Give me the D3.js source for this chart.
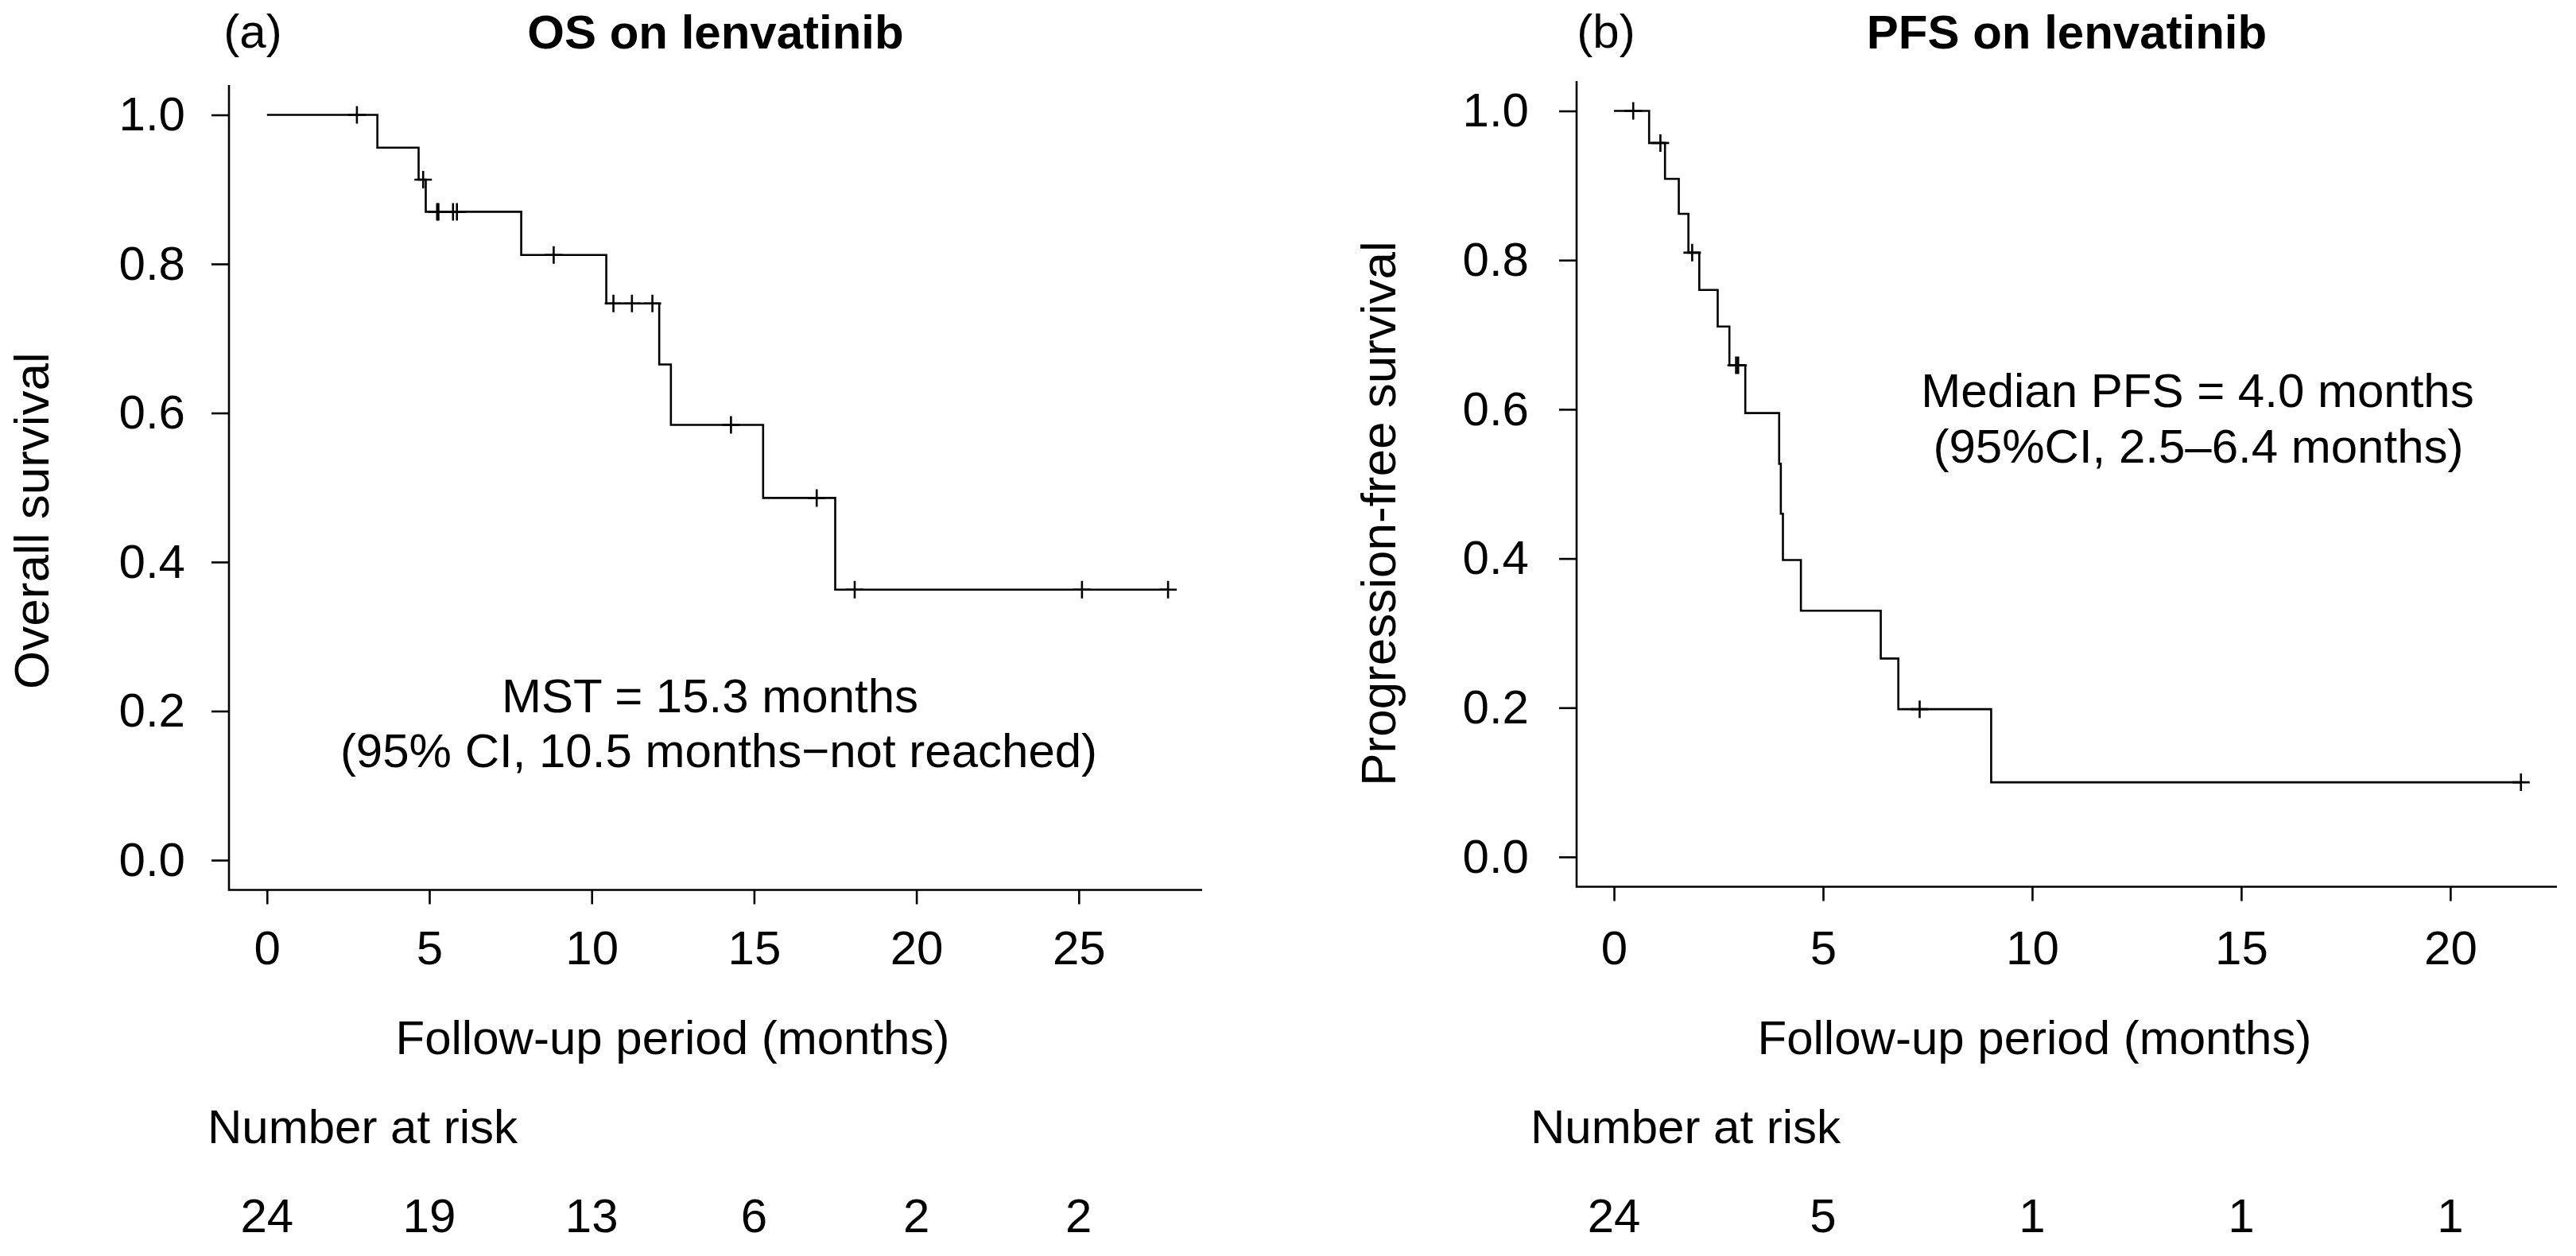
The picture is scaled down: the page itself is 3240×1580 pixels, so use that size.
<!DOCTYPE html>
<html><head><meta charset="utf-8">
<script src="https://cdn.jsdelivr.net/npm/d3@7"></script>
<style>
body{margin:0;background:#fff}
svg{display:block;background:#fff}
text{font-family:"Liberation Sans",Arial,Helvetica,sans-serif;fill:#000}
</style>
</head><body>
<svg id="c" width="3240" height="1580"></svg>
<script>
// ---------- data ----------
const yTicks = [0, 0.2, 0.4, 0.6, 0.8, 1.0];

// (a) Overall survival
const osTicks = [0, 5, 10, 15, 20, 25];
const osRisk = [24, 19, 13, 6, 2, 2];
const osTime = [0, 3.40, 4.67, 4.89, 7.83, 10.45, 12.08, 12.44, 15.28, 17.50];
const osSurv = [1.000, 0.956, 0.913, 0.870, 0.812, 0.747, 0.665, 0.584, 0.486, 0.363];
const osEnd = 27.75;
const osCensorTime = [2.77, 4.81, 5.24, 5.28, 5.73, 5.85, 8.83, 10.67, 11.24, 11.87, 14.29, 16.93, 18.10, 25.10, 27.75];
const osCensorSurv = [1.000, 0.913, 0.870, 0.870, 0.870, 0.870, 0.812, 0.747, 0.747, 0.747, 0.584, 0.486, 0.363, 0.363, 0.363];

// (b) Progression-free survival
const pfsTicks = [0, 5, 10, 15, 20];
const pfsRisk = [24, 5, 1, 1, 1];
const pfsTime = [0, 0.84, 1.22, 1.55, 1.78, 2.04, 2.48, 2.76, 3.14, 3.95, 3.99, 4.04, 4.47, 6.38, 6.80, 9.02];
const pfsSurv = [1.000, 0.957, 0.909, 0.862, 0.810, 0.760, 0.711, 0.659, 0.595, 0.527, 0.460, 0.398, 0.330, 0.266, 0.198, 0.100];
const pfsEnd = 21.69;
const pfsCensorTime = [0.46, 1.11, 1.87, 2.92, 2.97, 7.31, 21.69];
const pfsCensorSurv = [1.000, 0.957, 0.810, 0.659, 0.659, 0.198, 0.100];

// ---------- drawing ----------
const svg = d3.select('#c');
const FS = 60, SW = 2.6;

function panel(p) {
  const g = svg.append('g');
  const x = d3.scaleLinear().domain(p.xDom).range([p.left, p.right]);
  const y = d3.scaleLinear().domain([-0.04, 1.04]).range([p.bottom, p.top]);

  // L-shaped frame
  g.append('path')
    .attr('d', `M${p.left},${p.top}V${p.bottom}H${p.right}`)
    .attr('fill', 'none').attr('stroke', '#000').attr('stroke-width', SW);

  // y axis
  const ya = g.append('g').attr('transform', `translate(${p.left},0)`)
    .call(d3.axisLeft(y).tickValues(yTicks).tickFormat(d3.format('.1f'))
      .tickSize(22).tickPadding(p.yPad));
  ya.attr('font-size', FS);
  ya.select('.domain').remove();
  ya.selectAll('.tick line').attr('stroke-width', SW);

  // x axis
  const xa = g.append('g').attr('transform', `translate(0,${p.bottom})`)
    .call(d3.axisBottom(x).tickValues(p.ticks).tickFormat(d3.format('d'))
      .tickSize(18).tickPadding(1213 - p.bottom - 18 - 0.71 * FS));
  xa.attr('font-size', FS);
  xa.select('.domain').remove();
  xa.selectAll('.tick line').attr('stroke-width', SW);

  // KM step curve
  const pts = p.time.map((t, i) => [t, p.surv[i]]);
  pts.push([p.end, p.surv[p.surv.length - 1]]);
  g.append('path').datum(pts)
    .attr('d', d3.line().x(d => x(d[0])).y(d => y(d[1])).curve(d3.curveStepAfter))
    .attr('fill', 'none').attr('stroke', '#000').attr('stroke-width', SW);

  // censor marks
  const cs = p.cTime.map((t, i) => [t, p.cSurv[i]]);
  const h = 11;
  g.selectAll('path.cens').data(cs).join('path').attr('class', 'cens')
    .attr('d', d => { const cx = x(d[0]), cy = y(d[1]);
      return `M${cx - h},${cy}H${cx + h}M${cx},${cy - h}V${cy + h}`; })
    .attr('fill', 'none').attr('stroke', '#000').attr('stroke-width', SW);

  // titles
  g.append('text').attr('x', p.tagX).attr('y', 60).attr('text-anchor', 'middle')
    .attr('font-size', FS).text(p.tag);
  g.append('text').attr('x', (p.left + p.right) / 2).attr('y', 61).attr('text-anchor', 'middle')
    .attr('font-size', FS).attr('font-weight', 'bold').text(p.title);

  // y label
  g.append('text').attr('transform', `translate(${p.ylabX},${p.ylabY}) rotate(-90)`)
    .attr('text-anchor', 'middle').attr('font-size', 62).text(p.ylab);

  // x label
  g.append('text').attr('x', p.xlabX).attr('y', 1326).attr('text-anchor', 'middle')
    .attr('font-size', FS).text('Follow-up period (months)');

  // number at risk
  g.append('text').attr('x', p.nrX).attr('y', 1438).attr('font-size', FS).text('Number at risk');
  g.selectAll('text.risk').data(p.risk).join('text').attr('class', 'risk')
    .attr('x', (d, i) => x(p.ticks[i])).attr('y', 1550).attr('text-anchor', 'middle')
    .attr('font-size', FS).text(d => d);

  // annotation
  p.note.forEach((n, i) => {
    g.append('text').attr('x', n[1]).attr('y', n[2]).attr('text-anchor', 'middle')
      .attr('font-size', FS).text(n[0]);
  });
}

panel({
  left: 288, right: 1512, top: 107, bottom: 1119.5, xDom: [-1.17, 28.8], yPad: 33,
  ticks: osTicks, risk: osRisk, time: osTime, surv: osSurv, end: osEnd,
  cTime: osCensorTime, cSurv: osCensorSurv,
  tag: '(a)', tagX: 318, title: 'OS on lenvatinib',
  ylab: 'Overall survival', ylabX: 61, ylabY: 655,
  xlabX: 846, nrX: 261,
  note: [['MST = 15.3 months', 893, 896], ['(95% CI, 10.5 months\u2212not reached)', 904, 965]]
});

panel({
  left: 1983, right: 3216, top: 102, bottom: 1115.5, xDom: [-0.894, 22.55], yPad: 38,
  ticks: pfsTicks, risk: pfsRisk, time: pfsTime, surv: pfsSurv, end: pfsEnd,
  cTime: pfsCensorTime, cSurv: pfsCensorSurv,
  tag: '(b)', tagX: 2020, title: 'PFS on lenvatinib',
  ylab: 'Progression-free survival', ylabX: 1755, ylabY: 646,
  xlabX: 2559, nrX: 1925,
  note: [['Median PFS = 4.0 months', 2764, 512], ['(95%CI, 2.5\u20136.4 months)', 2765, 582]]
});
</script>
</body></html>
